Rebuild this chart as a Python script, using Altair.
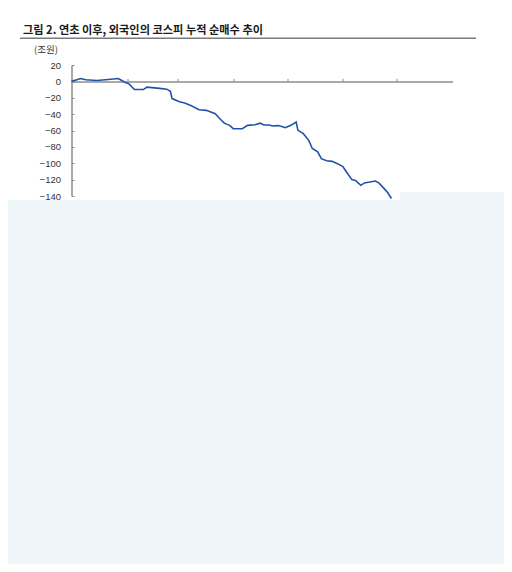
import altair as alt
import pandas as pd

TITLE = "그림 2. 연초 이후, 외국인의 코스피 누적 순매수 추이"
UNIT = "(조원)"

dates = [
    "2022-01-01", "2022-01-04", "2022-01-06", "2022-01-09", "2022-01-15", "2022-01-20",
    "2022-01-27", "2022-01-29", "2022-01-31", "2022-02-02", "2022-02-05", "2022-02-10",
    "2022-02-12", "2022-02-19", "2022-02-23", "2022-02-25", "2022-02-26", "2022-03-02",
    "2022-03-05", "2022-03-09", "2022-03-10", "2022-03-13", "2022-03-17", "2022-03-22",
    "2022-03-24", "2022-03-27", "2022-03-30", "2022-04-01", "2022-04-06", "2022-04-09",
    "2022-04-13", "2022-04-16", "2022-04-18", "2022-04-21", "2022-04-23", "2022-04-26",
    "2022-04-28", "2022-04-30", "2022-05-03", "2022-05-06", "2022-05-07", "2022-05-10",
    "2022-05-13", "2022-05-15", "2022-05-18", "2022-05-20", "2022-05-23", "2022-05-26",
    "2022-05-29", "2022-06-01", "2022-06-03", "2022-06-06", "2022-06-08", "2022-06-11",
    "2022-06-13", "2022-06-16", "2022-06-19", "2022-06-21", "2022-06-24", "2022-06-26",
    "2022-06-28",
]
values = [
    0, 2, 3.5, 2, 1, 2,
    3.5, 1, -1.5, -3, -10, -10,
    -7, -8.5, -9.5, -12, -21, -25,
    -26.5, -30, -31.4, -34.6, -35.4, -39.5,
    -44.4, -51, -53.7, -57.8, -57.8, -53.7,
    -52.9, -51, -53.3, -53.3, -54.5, -54,
    -55, -56.6, -53.7, -49.6, -59.8, -63.9,
    -72, -82, -86, -94.4, -97, -97.7,
    -100.5, -104, -110.7, -120, -121, -127,
    -124, -123, -121.7, -124, -131, -136,
    -143,
]
y_ticks = [20, 0, -20, -40, -60, -80, -100, -120, -140]
tick_months = [2, 3, 4, 5, 6, 7]

df = pd.DataFrame({"date": dates, "value": values})

AXIS_GRAY = "#8C8C8C"
LINE_BLUE = "#2152A9"
PANEL = "#EEF6F9"

x_scale = alt.Scale(
    type="utc",
    domain=[alt.DateTime(year=2022, month=1, date=1, utc=True),
            alt.DateTime(year=2022, month=8, date=1, utc=True)],
)
y_scale = alt.Scale(domain=[-140, 20], nice=False, zero=False)

x_axis = alt.Axis(
    orient="top", offset=-16.375,
    values=[alt.DateTime(year=2022, month=m, date=1, utc=True) for m in tick_months],
    labels=False, tickSize=3, tickColor=AXIS_GRAY, tickWidth=1,
    domainColor=AXIS_GRAY, domainWidth=1.5, grid=False, title=None, zindex=0,
)
y_axis = alt.Axis(
    orient="left", values=y_ticks, ticks=False, labelPadding=11,
    labelFont="Liberation Sans", labelFontSize=9.5, labelColor="#333333",
    domainColor=AXIS_GRAY, domainWidth=1.5, grid=False, title=None, zindex=0,
    format="d", labelBound=False, labelOverlap=False,
)
y_axis_in = alt.Axis(
    orient="right", offset=-381, values=y_ticks, labels=False, domain=False,
    tickSize=2.5, tickColor=AXIS_GRAY, tickWidth=1, grid=False, title=None, zindex=0,
)

line = alt.Chart(df).mark_line(color=LINE_BLUE, strokeWidth=1.6).encode(
    x=alt.X("date:T", scale=x_scale, axis=x_axis),
    y=alt.Y("value:Q", scale=y_scale, axis=y_axis),
)
ticks_in = alt.Chart(df).mark_line(opacity=0).encode(
    x=alt.X("date:T", scale=x_scale, axis=x_axis),
    y=alt.Y("value:Q", scale=y_scale, axis=y_axis_in),
)

one = alt.Data(values=[{"k": 0}])

title_text = alt.Chart(one).mark_text(
    text=TITLE, font="Noto Sans CJK KR", fontWeight="bold", fontSize=11.2,
    align="left", baseline="alphabetic", color="#1A1A1A",
).encode(x=alt.value(-48.5), y=alt.value(-31.2))

underline = alt.Chart(one).mark_rule(color="#7A7A7A", strokeWidth=1.6).encode(
    x=alt.value(-51.5), x2=alt.value(404.5), y=alt.value(-26.7)
)

unit_text = alt.Chart(one).mark_text(
    text=UNIT, font="Noto Sans CJK KR", fontSize=9.5, align="center",
    baseline="middle", color="#333333",
).encode(x=alt.value(-25.5), y=alt.value(-15))

cover_main = alt.Chart(one).mark_rect(color=PANEL).encode(
    x=alt.value(-63.5), x2=alt.value(432.5), y=alt.value(135), y2=alt.value(499)
)
cover_right = alt.Chart(one).mark_rect(color=PANEL).encode(
    x=alt.value(328.5), x2=alt.value(432.5), y=alt.value(127), y2=alt.value(136)
)

chart = alt.layer(
    line, ticks_in, title_text, underline, unit_text, cover_main, cover_right
).resolve_axis(y="independent").properties(
    width=381, height=131,
    autosize=alt.AutoSizeParams(type="none"),
    padding={"left": 63.5, "top": 57, "right": 51.5, "bottom": 368},
    background="white",
).configure_view(stroke=None)

chart.save("out.html", embed_options={"renderer": "svg", "actions": False})
